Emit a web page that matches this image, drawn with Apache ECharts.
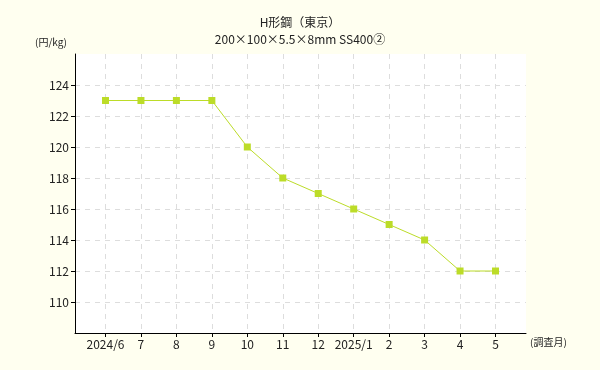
<!DOCTYPE html>
<html><head><meta charset="utf-8">
<script src="https://cdn.jsdelivr.net/npm/echarts@6/dist/echarts.min.js"></script>
<style>html,body{margin:0;padding:0;background:#fffff0;}#c{width:600px;height:370px;}</style>
</head><body><div id="c"></div>
<script>
const categories = ['2024/6','7','8','9','10','11','12','2025/1','2','3','4','5'];
const prices = [123,123,123,123,120,118,117,116,115,114,112,112];
const yTicks = [110,112,114,116,118,120,122,124];
const titleLine1 = 'H形鋼（東京）';
const titleLine2 = '200×100×5.5×8mm SS400②';

const font = '"Noto Sans CJK JP", "DejaVu Sans", sans-serif';
const chart = echarts.init(document.getElementById('c'));
const xIdx = categories.map((c, i) => i);
chart.setOption({
  backgroundColor: '#fffff0',
  animation: false,
  title: [
    {text: titleLine1, left: 'center', top: 11, textStyle: {fontSize: 12, fontWeight: 'normal', color: '#222', fontFamily: font}},
    {text: titleLine2, left: 'center', top: 28, textStyle: {fontSize: 12, fontWeight: 'normal', color: '#222', fontFamily: font}}
  ],
  graphic: [
    {type: 'text', left: 35, top: 37, style: {text: '(円/kg)', fontSize: 10, fill: '#222', fontFamily: font}},
    {type: 'text', left: 530, top: 337, style: {text: '(調査月)', fontSize: 10, fill: '#222', fontFamily: font}}
  ],
  grid: {left: 75, top: 54, width: 451, height: 279, backgroundColor: '#ffffff', show: true, borderWidth: 0},
  xAxis: {
    type: 'value', min: -0.86, max: 11.86,
    axisLine: {show: true, onZero: false, lineStyle: {color: '#000', width: 1}},
    axisTick: {show: true, length: 4, inside: false, lineStyle: {color: '#000'}, customValues: xIdx},
    axisLabel: {customValues: xIdx, formatter: v => categories[Math.round(v)] || '', color: '#222', fontSize: 12, margin: 5, fontFamily: font},
    splitLine: {show: true, lineStyle: {color: '#dddddd', type: [5, 5], width: 1}}
  },
  yAxis: {
    type: 'value', min: 108, max: 126,
    axisLine: {show: true, onZero: false, lineStyle: {color: '#000', width: 1}},
    axisTick: {show: true, length: 4, lineStyle: {color: '#000'}, customValues: yTicks},
    axisLabel: {customValues: yTicks, color: '#222', fontSize: 12, margin: 6, fontFamily: font},
    splitLine: {show: true, lineStyle: {color: '#dddddd', type: [5, 5], width: 1}}
  },
  series: [{
    type: 'line',
    data: prices.map((v, i) => [xIdx[i], v]),
    symbol: 'rect', symbolSize: 7,
    itemStyle: {color: '#bcdc28'},
    lineStyle: {color: '#bcdc28', width: 1}
  }]
});
</script></body></html>
